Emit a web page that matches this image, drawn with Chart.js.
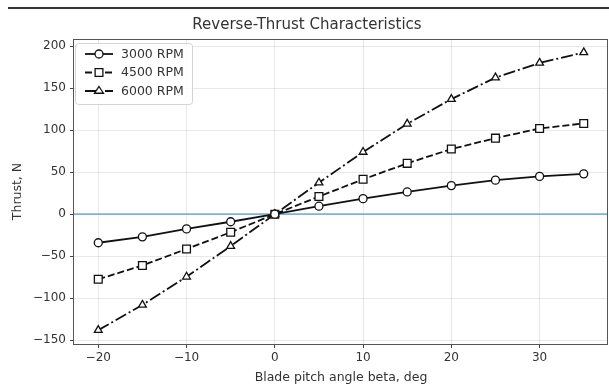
<!DOCTYPE html>
<html>
<head>
<meta charset="utf-8">
<script src="https://cdn.jsdelivr.net/npm/chart.js@4.4.0/dist/chart.umd.min.js"></script>
<style>
    body { margin: 0; background: #fff; }
    canvas { display: block; }
</style>
</head>
<body>
<canvas id="thrustChart" width="609" height="391"></canvas>
<script>
const betaDeg = [-20, -15, -10, -5, 0, 5, 10, 15, 20, 25, 30, 35];
const thrust3000 = [-34, -27, -17.5, -9, 0, 9.5, 18.5, 26.5, 34, 40.5, 45, 48];
const thrust4500 = [-77.5, -61, -41.5, -21.5, 0, 21, 41.5, 60.5, 77.5, 90.5, 102, 108];
const thrust6000 = [-138, -108, -74.5, -38, 0, 37.5, 74, 107.5, 137, 162.5, 180, 192.5];
const seriesLabels = ['3000 RPM', '4500 RPM', '6000 RPM'];
const xTicks = [-20, -10, 0, 10, 20, 30];
const yTicks = [-150, -100, -50, 0, 50, 100, 150, 200];

const FONT = "'DejaVu Sans', sans-serif";
const TEXT = '#333';

function toPoints(values) {
    return betaDeg.map((b, i) => ({ x: b, y: values[i] }));
}

function fmt(v) {
    return v < 0 ? '\u2212' + Math.abs(v) : String(v);
}

function seriesStyle(dash, marker, radius) {
    return {
        borderColor: '#111',
        borderWidth: 1.8,
        borderDash: dash,
        pointStyle: marker,
        pointRadius: radius,
        pointHoverRadius: radius,
        pointBackgroundColor: '#fff',
        pointBorderColor: '#111',
        pointBorderWidth: 1.3,
        fill: false,
        tension: 0
    };
}

const datasets = [
    Object.assign({ label: seriesLabels[0], data: toPoints(thrust3000) }, seriesStyle([], 'circle', 4)),
    Object.assign({ label: seriesLabels[1], data: toPoints(thrust4500) }, seriesStyle([7, 3], 'rect', 5.5)),
    Object.assign({ label: seriesLabels[2], data: toPoints(thrust6000) }, seriesStyle([12, 3, 2, 3], 'triangle', 4.5))
];

function drawMarker(ctx, style, x, y, r) {
    ctx.beginPath();
    if (style === 'circle') {
        ctx.arc(x, y, r, 0, Math.PI * 2);
    } else if (style === 'rect') {
        var s = r * Math.SQRT1_2;
        ctx.rect(x - s, y - s, 2 * s, 2 * s);
    } else {
        var h = r * 1.5;
        ctx.moveTo(x, y - r);
        ctx.lineTo(x + h / Math.sqrt(3) * 1.15, y + r / 2);
        ctx.lineTo(x - h / Math.sqrt(3) * 1.15, y + r / 2);
        ctx.closePath();
    }
    ctx.fillStyle = '#fff';
    ctx.fill();
    ctx.lineWidth = 1.3;
    ctx.strokeStyle = '#111';
    ctx.setLineDash([]);
    ctx.stroke();
}

const decorPlugin = {
    id: 'decor',
    beforeDraw(chart) {
        const ctx = chart.ctx;
        ctx.save();
        ctx.fillStyle = '#fff';
        ctx.fillRect(0, 0, chart.width, chart.height);
        ctx.fillStyle = '#333';
        ctx.fillRect(8, 7, chart.width - 8, 2);
        ctx.restore();
    },
    beforeDatasetsDraw(chart) {
        const ctx = chart.ctx;
        const area = chart.chartArea;
        const y0 = chart.scales.y.getPixelForValue(0);
        ctx.save();
        ctx.strokeStyle = '#7fb2d4';
        ctx.lineWidth = 1.8;
        ctx.beginPath();
        ctx.moveTo(area.left, y0);
        ctx.lineTo(area.right, y0);
        ctx.stroke();
        ctx.restore();
    },
    afterDatasetsDraw(chart) {
        const ctx = chart.ctx;
        const a = chart.chartArea;
        ctx.save();
        ctx.strokeStyle = '#555';
        ctx.lineWidth = 1;
        ctx.strokeRect(Math.round(a.left) - 0.5, Math.round(a.top) + 0.5, Math.round(a.right - a.left), Math.round(a.bottom - a.top));
        ctx.restore();
    },
    afterDraw(chart) {
        const ctx = chart.ctx;
        ctx.save();
        // legend box
        ctx.beginPath();
        ctx.roundRect(75.5, 43.5, 117, 61, 3);
        ctx.fillStyle = 'rgba(255,255,255,0.85)';
        ctx.fill();
        ctx.strokeStyle = '#d3d3d3';
        ctx.lineWidth = 1;
        ctx.stroke();

        const rows = [54, 72.5, 91];
        chart.data.datasets.forEach((ds, i) => {
            const y = rows[i];
            ctx.beginPath();
            ctx.setLineDash(ds.borderDash);
            ctx.lineWidth = ds.borderWidth;
            ctx.strokeStyle = ds.borderColor;
            ctx.moveTo(85, y);
            ctx.lineTo(113, y);
            ctx.stroke();
            drawMarker(ctx, ds.pointStyle, 99, y, ds.pointRadius);
            ctx.fillStyle = TEXT;
            ctx.font = '12.5px ' + FONT;
            ctx.textBaseline = 'middle';
            ctx.textAlign = 'left';
            ctx.fillText(ds.label, 121, y + 0.5);
        });
        ctx.restore();
    }
};

const ctx = document.getElementById('thrustChart').getContext('2d');
const thrustChart = new Chart(ctx, {
    type: 'line',
    data: { datasets: datasets },
    options: {
        responsive: false,
        animation: false,
        devicePixelRatio: 1,
        layout: { autoPadding: false, padding: { left: 6, right: 1, top: 0, bottom: 0 } },
        plugins: {
            legend: { display: false },
            tooltip: { enabled: false },
            title: {
                display: true,
                text: 'Reverse-Thrust Characteristics',
                color: TEXT,
                font: { family: FONT, size: 15, weight: 'normal' },
                padding: { top: 16, bottom: 5 }
            }
        },
        scales: {
            x: {
                type: 'linear',
                min: -22.75,
                max: 37.75,
                afterBuildTicks: scale => { scale.ticks = xTicks.map(v => ({ value: v })); },
                afterFit: scale => { scale.height = 47; },
                border: { display: false },
                grid: { color: 'rgba(0,0,0,0.09)', tickColor: '#444', tickLength: 4 },
                ticks: {
                    color: TEXT,
                    padding: 3,
                    maxRotation: 0,
                    font: { family: FONT, size: 12 },
                    callback: v => fmt(v)
                },
                title: {
                    display: true,
                    text: 'Blade pitch angle beta, deg',
                    color: TEXT,
                    font: { family: FONT, size: 12.5 },
                    padding: { top: 4, bottom: 6 }
                }
            },
            y: {
                type: 'linear',
                min: -154.5,
                max: 208.5,
                afterBuildTicks: scale => { scale.ticks = yTicks.map(v => ({ value: v })); },
                afterFit: scale => { scale.width = 68; },
                border: { display: false },
                grid: { color: 'rgba(0,0,0,0.09)', tickColor: '#444', tickLength: 4 },
                ticks: {
                    color: TEXT,
                    padding: 4,
                    font: { family: FONT, size: 12 },
                    callback: v => fmt(v)
                },
                title: {
                    display: true,
                    text: 'Thrust, N',
                    color: TEXT,
                    font: { family: FONT, size: 12.5 },
                    padding: { top: 4, bottom: 4 }
                }
            }
        }
    },
    plugins: [decorPlugin]
});
</script>
</body>
</html>
